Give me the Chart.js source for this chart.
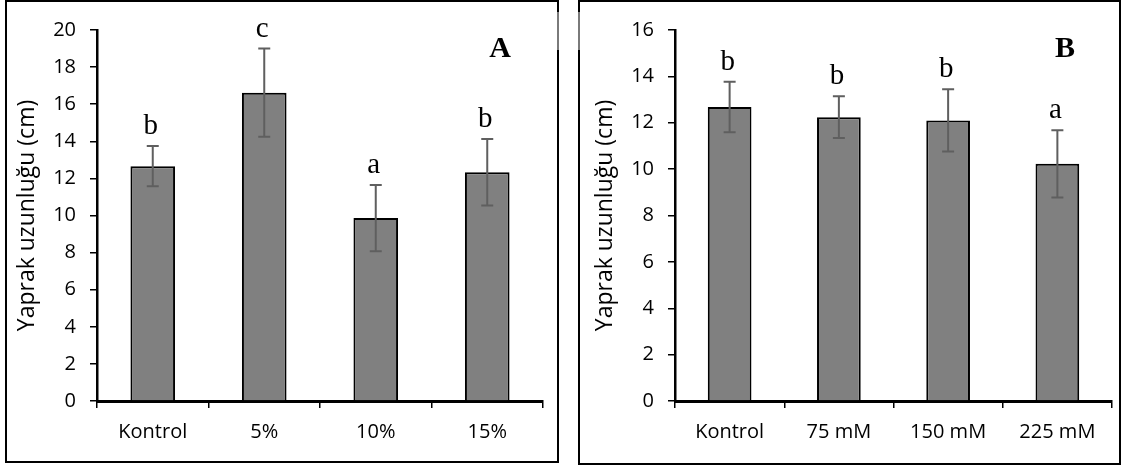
<!DOCTYPE html>
<html>
<head>
<meta charset="utf-8">
<script src="https://cdn.jsdelivr.net/npm/chart.js@4"></script>
<style>
html,body{margin:0;padding:0;background:#fff;}
#wrap{position:relative;width:1121px;height:465px;overflow:hidden;background:#fff;}
canvas{position:absolute;top:0;}
.box{position:absolute;border:2px solid #000;box-sizing:border-box;pointer-events:none;}
.art{position:absolute;width:2px;background:#7a7a7a;}
</style>
</head>
<body>
<div id="wrap">
  <canvas id="cA" width="560" height="465" style="left:0"></canvas>
  <canvas id="cB" width="561" height="465" style="left:560px"></canvas>
  <div class="box" style="left:5px;top:0px;width:554px;height:463px;"></div>
  <div class="box" style="left:578px;top:0px;width:543px;height:465px;"></div>
  <div class="art" style="left:557px;top:12px;height:38px;"></div>
  <div class="art" style="left:578px;top:12px;height:38px;"></div>
</div>
<script>
// ---- Data ----
const categoriesA = ["Kontrol", "5%", "10%", "15%"];
const valuesA = [12.66, 16.62, 9.86, 12.33];
const errorsA = [1.08, 2.38, 1.79, 1.79];
const lettersA = ["b", "c", "a", "b"];

const categoriesB = ["Kontrol", "75 mM", "150 mM", "225 mM"];
const valuesB = [12.68, 12.24, 12.10, 10.23];
const errorsB = [1.09, 0.90, 1.34, 1.45];
const lettersB = ["b", "b", "b", "a"];

const yTitle = "Yaprak uzunluğu (cm)";

// ---- Plugin: error bars, significance letters, panel label ----
const errPlugin = {
  id: 'errbars',
  afterDatasetsDraw(chart, args, opts) {
    const ctx = chart.ctx;
    const y = chart.scales.y;
    const meta = chart.getDatasetMeta(0);
    const data = chart.data.datasets[0].data;
    ctx.save();
    meta.data.forEach((bar, i) => {
      const v = data[i], e = opts.sd[i];
      const cx = bar.x;
      const yt = y.getPixelForValue(v + e), yb = y.getPixelForValue(v - e);
      ctx.strokeStyle = '#5f5f5f';
      ctx.lineWidth = 2;
      ctx.beginPath();
      ctx.moveTo(cx, yt); ctx.lineTo(cx, yb);
      ctx.moveTo(cx - 6, yt); ctx.lineTo(cx + 6, yt);
      ctx.moveTo(cx - 6, yb); ctx.lineTo(cx + 6, yb);
      ctx.stroke();
      ctx.fillStyle = '#000';
      ctx.font = '29px "Liberation Serif", "Times New Roman", serif';
      ctx.textAlign = 'center';
      ctx.textBaseline = 'alphabetic';
      ctx.fillText(opts.letters[i], cx - 2, yt - 12);
    });
    ctx.font = 'bold 30px "Liberation Serif", "Times New Roman", serif';
    ctx.textAlign = 'center';
    ctx.fillStyle = '#000';
    ctx.fillText(opts.panel, chart.chartArea.right - opts.panelDx, 57);
    ctx.restore();
  }
};

function makeChart(id, cats, vals, errs, letters, yMax, yAxisW, padRight, titlePad, panel, panelDx) {
  return new Chart(document.getElementById(id), {
    type: 'bar',
    data: {
      labels: cats,
      datasets: [{
        data: vals,
        backgroundColor: '#808080',
        borderColor: '#000',
        borderWidth: 2,
        barPercentage: 0.4,
        categoryPercentage: 1.0
      }]
    },
    options: {
      responsive: false,
      animation: false,
      events: [],
      layout: { padding: { top: 30, right: padRight, left: 0, bottom: 0 } },
      plugins: {
        legend: { display: false },
        tooltip: { enabled: false },
        errbars: { sd: errs, letters: letters, panel: panel, panelDx: panelDx }
      },
      scales: {
        x: {
          grid: { drawOnChartArea: false, drawTicks: true, tickLength: 7, color: '#000', lineWidth: 1.5, offset: true },
          border: { display: true, color: '#000', width: 3 },
          ticks: { color: '#000', font: { family: '"Open Sans", sans-serif', size: 20 }, padding: 12, maxRotation: 0 },
          afterFit(s) { s.height = 64; }
        },
        y: {
          min: 0, max: yMax,
          ticks: { stepSize: 2, color: '#000', font: { family: '"Open Sans", sans-serif', size: 20 }, padding: 14 },
          grid: { drawOnChartArea: false, drawTicks: true, tickLength: 7, color: '#000', lineWidth: 1.5 },
          border: { display: true, color: '#000', width: 2.5 },
          title: { display: true, text: yTitle, color: '#000', font: { family: '"Open Sans", sans-serif', size: 23 }, padding: { top: titlePad, bottom: 0 } },
          afterFit(s) { s.width = yAxisW; }
        }
      }
    },
    plugins: [errPlugin]
  });
}

makeChart('cA', categoriesA, valuesA, errorsA, lettersA, 20, 97, 17, 14, 'A', 43);
makeChart('cB', categoriesB, valuesB, errorsB, lettersB, 16, 115, 9, 32, 'B', 47);
</script>
</body>
</html>
